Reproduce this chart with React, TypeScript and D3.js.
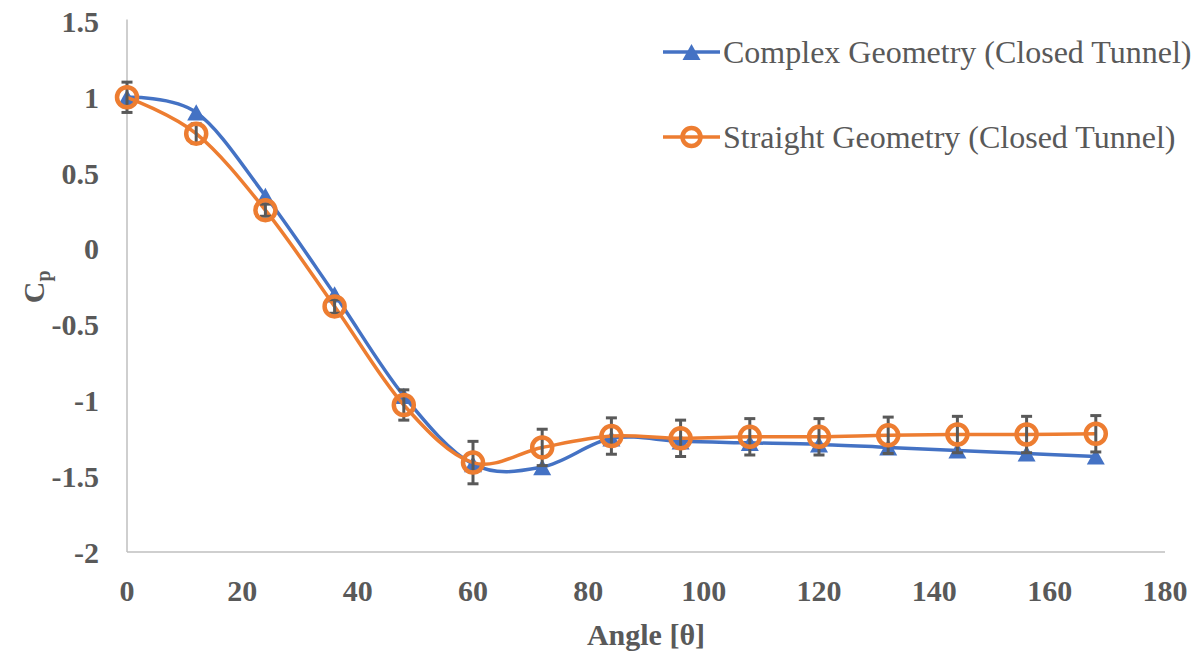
import React from "react";
import * as d3 from "d3";

// angles [deg]
const angles = [0, 12, 24, 36, 48, 60, 72, 84, 96, 108, 120, 132, 144, 156, 168];
// Cp, complex geometry (closed tunnel)
const complexCp = [1.0, 0.9, 0.35, -0.3, -0.97, -1.42, -1.44, -1.25, -1.27, -1.28, -1.29, -1.31, -1.33, -1.35, -1.37];
// Cp, straight geometry (closed tunnel)
const straightCp = [1.0, 0.76, 0.255, -0.38, -1.03, -1.41, -1.31, -1.235, -1.25, -1.24, -1.24, -1.23, -1.225, -1.225, -1.22];
// error bar half-height for straight series
const straightErr = [0.1, 0.065, 0.04, 0.045, 0.1, 0.14, 0.12, 0.12, 0.12, 0.12, 0.12, 0.12, 0.12, 0.12, 0.12];

const xTicks = [0, 20, 40, 60, 80, 100, 120, 140, 160, 180];
const yTicks = [1.5, 1, 0.5, 0, -0.5, -1, -1.5, -2];

const seriesNames = ["Complex Geometry (Closed Tunnel)", "Straight Geometry (Closed Tunnel)"];

const BLUE = "#4472C4";
const ORANGE = "#ED7D31";
const GRAY_TEXT = "#595959";
const AXIS = "#BFBFBF";
const FONT = "'Liberation Serif', 'Times New Roman', serif";

function triangle(cx: number, cy: number, s: number) {
  const h = s * 0.9;
  return `M${cx},${cy - h / 2}L${cx + s / 2},${cy + h / 2}L${cx - s / 2},${cy + h / 2}Z`;
}

export default function App() {
  const width = 1202;
  const height = 655;
  const left = 127;
  const right = 1165;
  const top = 21.5;
  const bottom = 552;

  const x = d3.scaleLinear().domain([0, 180]).range([left, right]);
  const y = d3.scaleLinear().domain([-2, 1.5]).range([bottom, top]);

  const line = d3
    .line<number>()
    .x((_, i) => x(angles[i]))
    .y((d) => y(d))
    .curve(d3.curveCardinal.tension(0));

  const legendY = [52, 137];

  return (
    <svg
      width={width}
      height={height}
      style={{ position: "absolute", left: 0, top: 0, background: "#fff" }}
      fontFamily={FONT}
    >
      {/* axes */}
      <line x1={left} y1={top - 2} x2={left} y2={bottom} stroke={AXIS} strokeWidth={1.5} />
      <line x1={left} y1={bottom} x2={right} y2={bottom} stroke={AXIS} strokeWidth={1.5} />

      {yTicks.map((t) => (
        <text
          key={t}
          x={99}
          y={y(t)}
          dy="0.35em"
          textAnchor="end"
          fontSize={30}
          fontWeight="bold"
          fill={GRAY_TEXT}
        >
          {t}
        </text>
      ))}
      {xTicks.map((t) => (
        <text
          key={t}
          x={x(t)}
          y={601}
          textAnchor="middle"
          fontSize={30}
          fontWeight="bold"
          fill={GRAY_TEXT}
        >
          {t}
        </text>
      ))}

      {/* axis titles */}
      <text
        x={(left + right) / 2}
        y={645}
        textAnchor="middle"
        fontSize={30}
        fontWeight="bold"
        fill={GRAY_TEXT}
      >
        Angle [θ]
      </text>
      <text
        transform={`translate(44,${(top + bottom) / 2}) rotate(-90)`}
        textAnchor="middle"
        fontSize={30}
        fontWeight="bold"
        fill={GRAY_TEXT}
      >
        C
        <tspan fontSize={20} dy={6}>
          p
        </tspan>
      </text>

      {/* complex series */}
      <path d={line(complexCp) || ""} fill="none" stroke={BLUE} strokeWidth={3.5} />
      {complexCp.map((v, i) => (
        <path key={i} d={triangle(x(angles[i]), y(v), 18)} fill={BLUE} />
      ))}

      {/* straight series */}
      <path d={line(straightCp) || ""} fill="none" stroke={ORANGE} strokeWidth={3.5} />
      {straightCp.map((v, i) => {
        const cx = x(angles[i]);
        return (
          <g key={i} stroke={GRAY_TEXT}>
            <line x1={cx} x2={cx} y1={y(v - straightErr[i])} y2={y(v + straightErr[i])} strokeWidth={3} />
            <line x1={cx - 5.5} x2={cx + 5.5} y1={y(v - straightErr[i])} y2={y(v - straightErr[i])} strokeWidth={3} />
            <line x1={cx - 5.5} x2={cx + 5.5} y1={y(v + straightErr[i])} y2={y(v + straightErr[i])} strokeWidth={3} />
          </g>
        );
      })}
      {straightCp.map((v, i) => (
        <circle key={i} cx={x(angles[i])} cy={y(v)} r={10} fill="none" stroke={ORANGE} strokeWidth={4.5} />
      ))}

      {/* legend */}
      {seriesNames.map((name, i) => (
        <g key={name} transform={`translate(0,${legendY[i]})`}>
          <line x1={663} x2={720} y1={0} y2={0} stroke={i === 0 ? BLUE : ORANGE} strokeWidth={3.5} />
          {i === 0 ? (
            <path d={triangle(691.5, 0, 18)} fill={BLUE} />
          ) : (
            <circle cx={691.5} cy={0} r={9} fill="none" stroke={ORANGE} strokeWidth={4.5} />
          )}
          <text x={723} y={0} dy="0.33em" fontSize={32} fill={GRAY_TEXT}>
            {name}
          </text>
        </g>
      ))}
    </svg>
  );
}
